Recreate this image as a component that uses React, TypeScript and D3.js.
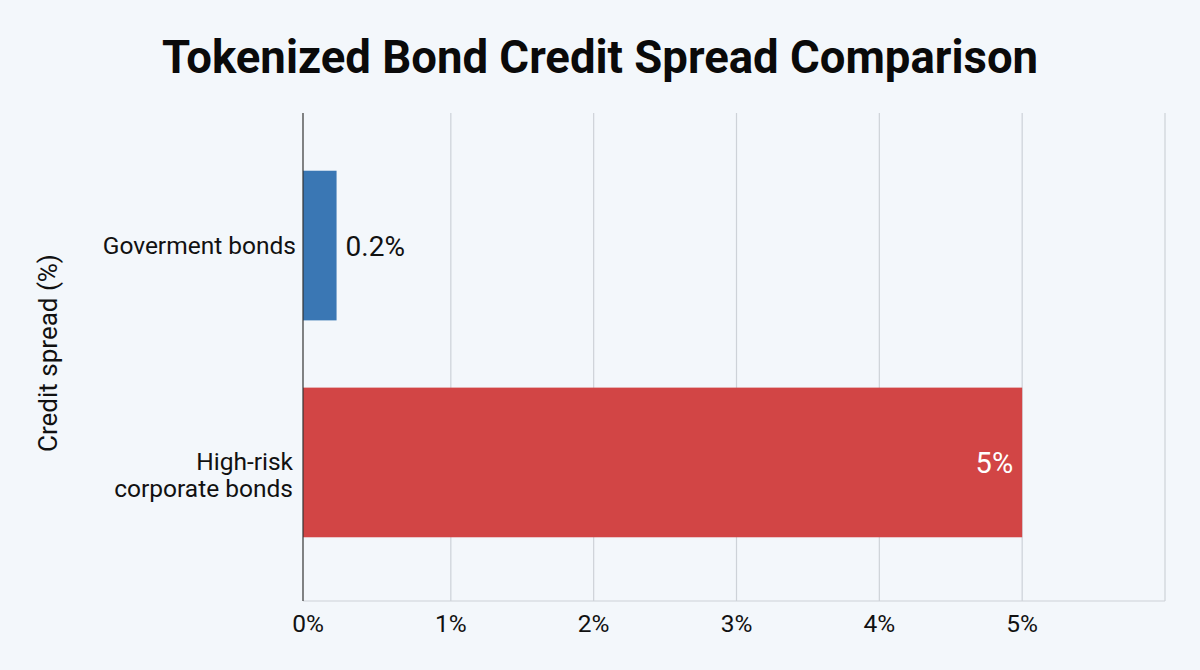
import * as d3 from 'd3';

// chart data
const categories = ['Goverment bonds', 'High-risk corporate bonds'];
const categoryLines = [['Goverment bonds'], ['High-risk', 'corporate bonds']];
const spreads = [0.2, 5];
const valueLabels = ['0.2%', '5%'];
const barColors = ['#3a77b4', '#d24545'];
const ticks = [0, 1, 2, 3, 4, 5];

const W = 1200;
const H = 670;
const left = 303;
const right = 1165;
const top = 113;
const bottom = 601;
const font = 'Roboto, "Noto Sans", sans-serif';

const App = () => {
    // axis starts a little below zero, bars are drawn from the left edge
    const x = d3.scaleLinear().domain([-0.035, 6]).range([left, right]);
    const y = d3.scaleBand<string>()
        .domain(categories)
        .range([top - 3, bottom - 3])
        .paddingInner(0.31)
        .paddingOuter(0.28);

    return (
        <svg width={W} height={H} style={{ position: 'absolute', left: 0, top: 0, background: '#f3f7fb' }}>
            <rect width={W} height={H} fill="#f3f7fb" />
            <text x={600} y={73} textAnchor="middle" fontFamily={font} fontWeight="bold" fontSize={45.5} fill="#0a0a0a">
                Tokenized Bond Credit Spread Comparison
            </text>

            {/* grid */}
            {ticks.slice(1).map(t => (
                <line key={t} x1={x(t)} x2={x(t)} y1={top} y2={bottom} stroke="#cdd2d8" strokeWidth={1.2} />
            ))}
            <line x1={right} x2={right} y1={top} y2={bottom} stroke="#cdd2d8" strokeWidth={1.2} />
            <line x1={left} x2={right} y1={bottom} y2={bottom} stroke="#cdd2d8" strokeWidth={1.2} />

            {/* bars */}
            {categories.map((c, i) => (
                <rect key={c} x={left} y={y(c)} width={x(spreads[i]) - left} height={y.bandwidth()} fill={barColors[i]} />
            ))}

            {/* value labels */}
            {categories.map((c, i) => {
                const inside = spreads[i] > 1;
                const cy = (y(c) ?? 0) + y.bandwidth() / 2;
                return (
                    <text key={c} x={inside ? x(spreads[i]) - 9 : x(spreads[i]) + 9} y={cy} dy="0.36em"
                        textAnchor={inside ? 'end' : 'start'} fontFamily={font} fontSize={inside ? 29 : 28}
                        fill={inside ? '#ffffff' : '#111111'}>
                        {valueLabels[i]}
                    </text>
                );
            })}

            <line x1={left} x2={left} y1={top} y2={bottom} stroke="#333333" strokeWidth={1.2} />

            {/* category labels */}
            {categories.map((c, i) => {
                const lines = categoryLines[i];
                const cy = (y(c) ?? 0) + y.bandwidth() / 2;
                return (
                    <text key={c} textAnchor="end" fontFamily={font} fontSize={24.5} fill="#111111">
                        {lines.map((l, j) => (
                            <tspan key={j} x={lines.length > 1 ? left - 10 : left - 7} y={cy + 8 + j * 27}>{l}</tspan>
                        ))}
                    </text>
                );
            })}

            {/* x ticks */}
            {ticks.map(t => (
                <text key={t} x={x(t)} y={632} textAnchor="middle" fontFamily={font} fontSize={24.5} fill="#111111">
                    {`${t}%`}
                </text>
            ))}

            <text transform={`translate(57, 353) rotate(-90)`} textAnchor="middle" fontFamily={font} fontSize={26} fill="#111111">
                Credit spread (%)
            </text>
        </svg>
    );
};

export default App;
